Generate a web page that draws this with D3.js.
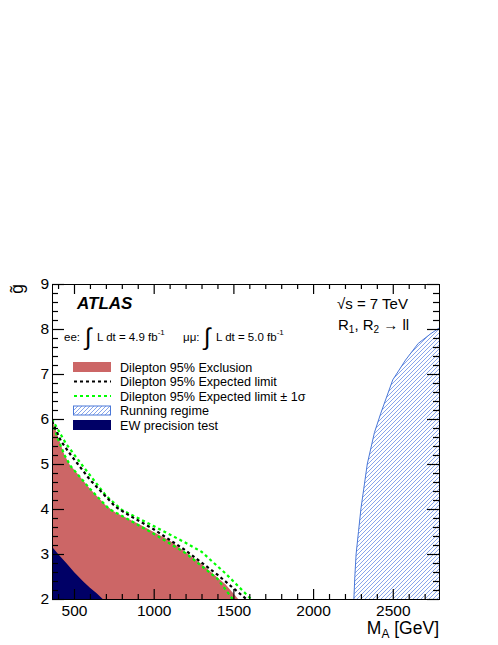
<!DOCTYPE html>
<html>
<head>
<meta charset="utf-8">
<script src="https://cdn.jsdelivr.net/npm/d3@7"></script>
<style>
body { margin: 0; background: #fff; }
text { font-family: "Liberation Sans", Arial, Helvetica, sans-serif; fill: #000; }
</style>
</head>
<body>
<div id="plot"></div>
<script>
// values
var massTicks = [500, 1000, 1500, 2000, 2500];
var couplingTicks = [2, 3, 4, 5, 6, 7, 8, 9];

var obsMass = [362, 400, 440, 475, 500, 600, 700, 760, 900, 1100, 1300, 1450, 1530];
var obsCoupling = [6.0, 5.6, 5.2, 4.97, 4.88, 4.45, 4.08, 3.92, 3.68, 3.3, 2.78, 2.33, 2.0];

var expMass = [362, 420, 480, 600, 760, 850, 1000, 1200, 1400, 1580];
var expCoupling = [5.95, 5.5, 5.2, 4.65, 4.05, 3.85, 3.55, 3.08, 2.54, 2.0];

var expLoMass = [362, 400, 440, 480, 600, 720, 800, 1000, 1200, 1400, 1495];
var expLoCoupling = [5.95, 5.55, 5.2, 4.95, 4.45, 4.0, 3.85, 3.45, 3.02, 2.45, 2.0];

var expHiMass = [362, 450, 550, 700, 800, 1000, 1200, 1300, 1450, 1610];
var expHiCoupling = [6.0, 5.45, 4.98, 4.3, 3.98, 3.62, 3.25, 3.05, 2.57, 2.0];

var ewMass = [362, 400, 454, 500, 558, 600, 642, 680];
var ewCoupling = [3.16, 3.0, 2.79, 2.6, 2.39, 2.25, 2.13, 2.0];

var runMass = [2256, 2262, 2270, 2285, 2300, 2340, 2385, 2425, 2500, 2580, 2660, 2740, 2790];
var runCoupling = [2.0, 2.5, 3.0, 3.5, 4.0, 5.0, 5.7, 6.13, 6.87, 7.31, 7.68, 7.9, 8.02];

var legendLabels = ["Dilepton 95% Exclusion", "Dilepton 95% Expected limit",
                    "Dilepton 95% Expected limit \u00b1 1\u03c3", "Running regime", "EW precision test"];

var zip = function(xs, ys) {
    return xs.map(function(v, i) { return [v, ys[i]]; });
}

var width = 498, height = 645;
var x = d3.scaleLinear().domain([362, 2790]).range([52, 439]);
var y = d3.scaleLinear().domain([2, 9]).range([599, 284]);

var svg = d3.select("#plot").append("svg")
    .attr("width", width)
    .attr("height", height);

var defs = svg.append("defs");
defs.append("clipPath").attr("id", "frameclip")
    .append("rect")
    .attr("x", x.range()[0]).attr("y", y.range()[1])
    .attr("width", x.range()[1] - x.range()[0])
    .attr("height", y.range()[0] - y.range()[1]);

var hatch = defs.append("pattern")
    .attr("id", "hatch")
    .attr("patternUnits", "userSpaceOnUse")
    .attr("width", 4).attr("height", 4);
hatch.append("path")
    .attr("d", "M-1,1 l2,-2 M0,4 l4,-4 M3,5 l2,-2")
    .attr("stroke", "#6a8ee6")
    .attr("stroke-width", 0.8);

var plot = svg.append("g").attr("clip-path", "url(#frameclip)");

var areaBelow = d3.area()
    .x(function(d) { return x(d[0]); })
    .y0(y(2))
    .y1(function(d) { return y(d[1]); });

var curve = d3.line()
    .x(function(d) { return x(d[0]); })
    .y(function(d) { return y(d[1]); });

// observed exclusion
plot.append("path")
    .datum(zip(obsMass, obsCoupling))
    .attr("d", areaBelow)
    .attr("fill", "#cc6666");

// EW precision
plot.append("path")
    .datum(zip(ewMass, ewCoupling))
    .attr("d", areaBelow)
    .attr("fill", "#000066");

// running regime, region right of the curve
var runArea = d3.area()
    .y(function(d) { return y(d[1]); })
    .x0(function(d) { return x(d[0]); })
    .x1(x(2790) + 2);
plot.append("path")
    .datum(zip(runMass, runCoupling))
    .attr("d", runArea)
    .attr("fill", "url(#hatch)");
plot.append("path")
    .datum(zip(runMass, runCoupling))
    .attr("d", curve)
    .attr("fill", "none")
    .attr("stroke", "#4a78d8")
    .attr("stroke-width", 1);

// expected limits
[[expLoMass, expLoCoupling, "#00ff00"], [expHiMass, expHiCoupling, "#00ff00"], [expMass, expCoupling, "#000"]]
    .forEach(function(s) {
        plot.append("path")
            .datum(zip(s[0], s[1]))
            .attr("d", curve)
            .attr("fill", "none")
            .attr("stroke", s[2])
            .attr("stroke-width", 2.2)
            .attr("stroke-dasharray", "3,3");
    });

// axis titles
var xt = svg.append("text")
    .attr("x", x(2790)).attr("y", 634)
    .attr("text-anchor", "end")
    .style("font-size", "17.5px");
xt.append("tspan").text("M");
xt.append("tspan").attr("dy", 4).style("font-size", "12px").text("A");
xt.append("tspan").attr("dy", -4).text(" [GeV]");

svg.append("text")
    .attr("transform", "translate(23,284) rotate(-90)")
    .attr("text-anchor", "end")
    .style("font-size", "17.5px")
    .text("g\u0303");

// labels
svg.append("text")
    .attr("x", 77).attr("y", 309)
    .style("font-size", "17px")
    .style("font-weight", "bold")
    .style("font-style", "italic")
    .text("ATLAS");

svg.append("text")
    .attr("x", 337).attr("y", 309)
    .style("font-size", "15px")
    .text("\u221as = 7 TeV");

var rt = svg.append("text")
    .attr("x", 338).attr("y", 330)
    .style("font-size", "15px");
rt.append("tspan").text("R");
rt.append("tspan").attr("dy", 3).style("font-size", "10px").text("1");
rt.append("tspan").attr("dy", -3).text(", R");
rt.append("tspan").attr("dy", 3).style("font-size", "10px").text("2");
rt.append("tspan").attr("dy", -3).text(" \u2192 ll");

var lumi = [["ee:", 64, "4.9"], ["\u03bc\u03bc:", 183, "5.0"]];
lumi.forEach(function(l) {
    svg.append("text").attr("x", l[1]).attr("y", 341).style("font-size", "11.5px").text(l[0]);
    svg.append("text").attr("x", l[1] + 21).attr("y", 345).style("font-size", "24px").style("font-weight", "300").text("\u222b");
    var t = svg.append("text").attr("x", l[1] + 33).attr("y", 341).style("font-size", "11.5px");
    t.append("tspan").text("L dt = " + l[2] + " fb");
    t.append("tspan").attr("dy", -6).style("font-size", "8px").text("-1");
});

// legend
var rowY = d3.scaleLinear().domain([0, 4]).range([367, 425]);
var legend = svg.append("g");
legend.append("rect").attr("x", 73).attr("y", rowY(0) - 5).attr("width", 38).attr("height", 10).attr("fill", "#cc6666");
legend.append("line").attr("x1", 74).attr("x2", 111).attr("y1", rowY(1)).attr("y2", rowY(1))
    .attr("stroke", "#000").attr("stroke-width", 2.2).attr("stroke-dasharray", "3,3");
legend.append("line").attr("x1", 74).attr("x2", 111).attr("y1", rowY(2)).attr("y2", rowY(2))
    .attr("stroke", "#00ff00").attr("stroke-width", 2.2).attr("stroke-dasharray", "3,3");
legend.append("rect").attr("x", 73.5).attr("y", rowY(3) - 4.5).attr("width", 37).attr("height", 9)
    .attr("fill", "url(#hatch)").attr("stroke", "#4a78d8").attr("stroke-width", 1);
legend.append("rect").attr("x", 73).attr("y", rowY(4) - 5).attr("width", 38).attr("height", 10).attr("fill", "#000066");

legend.selectAll("text.lab").data(legendLabels).enter()
    .append("text")
    .attr("class", "lab")
    .attr("x", 120)
    .attr("y", function(d, i) { return rowY(i) + 4.5; })
    .style("font-size", "12.6px")
    .text(function(d) { return d; });

// frame
svg.append("rect")
    .attr("x", x(362) + 0.5).attr("y", y(9) + 0.5)
    .attr("width", x(2790) - x(362)).attr("height", y(2) - y(9))
    .attr("fill", "none")
    .attr("stroke", "#000")
    .attr("stroke-width", 1);

// axes drawn last, ROOT style: ticks point into the frame
var minorX = d3.range(400, 2800, 100).filter(function(v) { return v % 500 != 0; });
var minorY = d3.range(2.2, 9, 0.2).filter(function(v) { return Math.abs(v - Math.round(v)) > 0.01; });

var axisStyle = function(g) {
    g.select(".domain").remove();
    g.selectAll(".tick line").attr("stroke", "#000").attr("stroke-width", 1.2);
    g.selectAll(".tick text").style("font-size", "15.5px").attr("fill", "#000");
}

var addAxis = function(axis, tx, ty) {
    svg.append("g")
        .attr("transform", "translate(" + tx + "," + ty + ")")
        .call(axis)
        .call(axisStyle);
}

// bottom edge: ticks up, labels below
addAxis(d3.axisTop(x).tickValues(massTicks).tickSize(10).tickFormat(""), 0, y(2));
addAxis(d3.axisTop(x).tickValues(minorX).tickSize(5).tickFormat(""), 0, y(2));
addAxis(d3.axisBottom(x).tickValues(massTicks).tickSize(0).tickPadding(6).tickFormat(d3.format("d")), 0, y(2));
// top edge: ticks down
addAxis(d3.axisBottom(x).tickValues(massTicks).tickSize(10).tickFormat(""), 0, y(9));
addAxis(d3.axisBottom(x).tickValues(minorX).tickSize(5).tickFormat(""), 0, y(9));
// left edge: ticks right, labels left
addAxis(d3.axisRight(y).tickValues(couplingTicks).tickSize(12).tickFormat(""), x(362), 0);
addAxis(d3.axisRight(y).tickValues(minorY).tickSize(6).tickFormat(""), x(362), 0);
addAxis(d3.axisLeft(y).tickValues(couplingTicks).tickSize(0).tickPadding(3).tickFormat(d3.format("d")), x(362), 0);
// right edge: ticks left
addAxis(d3.axisLeft(y).tickValues(couplingTicks).tickSize(12).tickFormat(""), x(2790), 0);
addAxis(d3.axisLeft(y).tickValues(minorY).tickSize(6).tickFormat(""), x(2790), 0);
</script>
</body>
</html>
